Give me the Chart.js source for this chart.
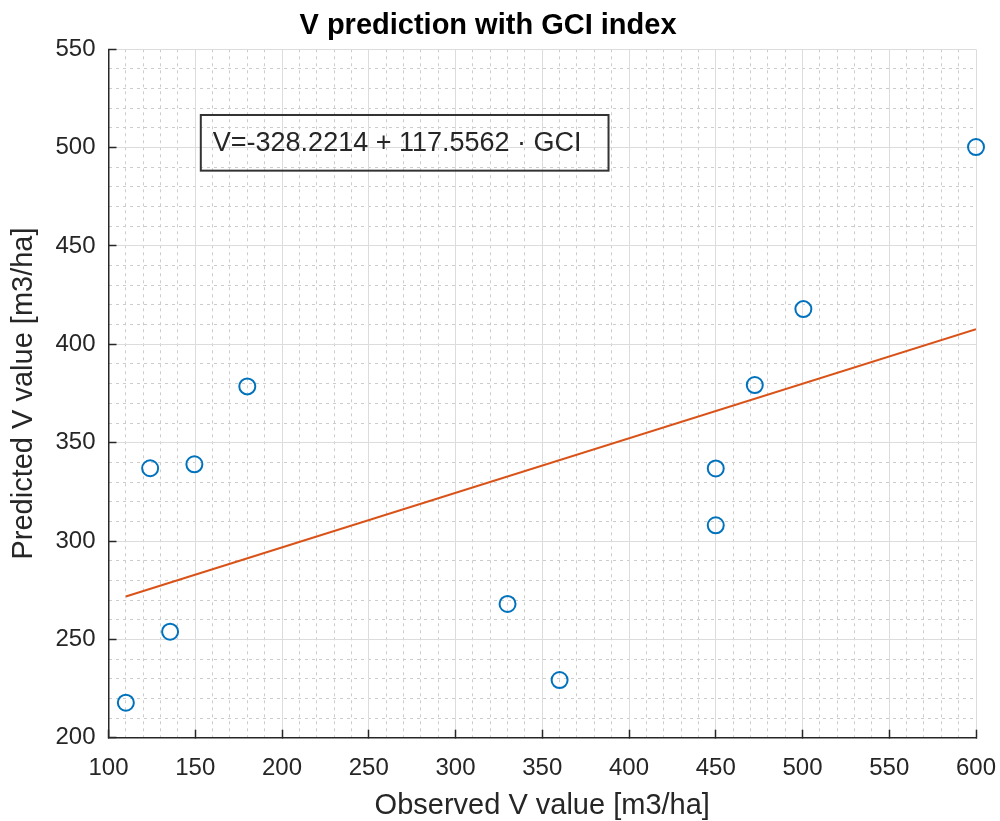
<!DOCTYPE html>
<html>
<head>
<meta charset="utf-8">
<title>V prediction with GCI index</title>
<script src="https://cdn.jsdelivr.net/npm/chart.js@4"></script>
<style>
  html, body { margin: 0; padding: 0; background: #ffffff; }
  canvas { display: block; }
</style>
</head>
<body>
<canvas id="chart" width="1000" height="821"></canvas>
<script>
// Observed vs predicted stand volume (m3/ha)
const observedV  = [110, 124, 135.5, 149.5, 180, 330, 360, 450, 450, 472.5, 500.5, 600];
const predictedV = [217.8, 337, 253.9, 339, 378.6, 268, 229.3, 336.9, 308, 379.3, 417.9, 500.3];

// Least-squares fit line end points
const fitX = [110, 600];
const fitY = [271.8, 407.7];

// Axis ranges and tick steps
const xRange = [100, 600];
const yRange = [200, 550];
const majorStep = 50;
const minorStep = 10;

const equationText = 'V=-328.2214 + 117.5562 \u00B7 GCI';

const FONT = '"Liberation Sans", Arial, Helvetica, sans-serif';
const AXIS_COLOR = '#262626';

const scatterPoints = observedV.map((x, i) => ({ x: x, y: predictedV[i] }));
const fitPoints = fitX.map((x, i) => ({ x: x, y: fitY[i] }));

// Text box holding the regression equation, anchored in data units
const equationBox = {
  id: 'equationBox',
  afterDraw(chart) {
    const { ctx, scales } = chart;
    const left = scales.x.getPixelForValue(153.2);
    const right = scales.x.getPixelForValue(388.2);
    const top = scales.y.getPixelForValue(516.6);
    const bottom = scales.y.getPixelForValue(488.3);
    ctx.save();
    ctx.strokeStyle = '#333333';
    ctx.lineWidth = 2;
    ctx.strokeRect(left, top, right - left, bottom - top);
    ctx.fillStyle = AXIS_COLOR;
    ctx.font = '27px ' + FONT;
    ctx.textAlign = 'left';
    ctx.textBaseline = 'middle';
    ctx.fillText(equationText, left + 12, (top + bottom) / 2 + 1);
    ctx.restore();
  }
};

const minorGrid = () => ({
  drawTicks: false,
  lineWidth: 1,
  color: (c) => (c.tick && c.tick.value % majorStep === 0) ? 'rgba(0,0,0,0)' : '#cccccc'
});

new Chart(document.getElementById('chart'), {
  type: 'scatter',
  data: {
    datasets: [
      {
        label: 'Fit',
        data: fitPoints,
        showLine: true,
        borderColor: '#D95319',
        borderWidth: 2,
        pointRadius: 0,
        pointHoverRadius: 0,
        fill: false,
        order: 2
      },
      {
        label: 'Observations',
        data: scatterPoints,
        showLine: false,
        clip: false,
        pointStyle: 'circle',
        pointRadius: 8,
        pointHoverRadius: 8,
        pointBorderWidth: 2,
        borderColor: '#0072BD',
        backgroundColor: 'rgba(0,0,0,0)',
        order: 1
      }
    ]
  },
  options: {
    responsive: false,
    animation: false,
    devicePixelRatio: 1,
    layout: { padding: { left: 0, right: 24, top: 0, bottom: 0 } },
    plugins: {
      legend: { display: false },
      tooltip: { enabled: false },
      title: {
        display: true,
        text: 'V prediction with GCI index',
        color: '#000000',
        font: { family: FONT, size: 29, weight: 'bold', lineHeight: 1 },
        padding: { top: 11, bottom: 9.3 }
      }
    },
    scales: {
      xMinor: {
        axis: 'x',
        type: 'linear',
        position: 'bottom',
        min: xRange[0],
        max: xRange[1],
        ticks: { display: false, stepSize: minorStep },
        grid: minorGrid(),
        border: { display: false, dash: [3, 4] }
      },
      yMinor: {
        axis: 'y',
        type: 'linear',
        position: 'left',
        min: yRange[0],
        max: yRange[1],
        ticks: { display: false, stepSize: minorStep },
        grid: minorGrid(),
        border: { display: false, dash: [3, 4] }
      },
      x: {
        type: 'linear',
        position: 'bottom',
        min: xRange[0],
        max: xRange[1],
        afterFit(scale) {
          scale.height = 83.3;
          scale.paddingLeft = 0;
          scale.paddingRight = 0;
        },
        ticks: {
          stepSize: majorStep,
          autoSkip: false,
          maxRotation: 0,
          color: AXIS_COLOR,
          padding: 24,
          font: { family: FONT, size: 24 }
        },
        grid: {
          color: '#dcdcdc',
          lineWidth: 1,
          tickColor: AXIS_COLOR,
          tickWidth: 1.5,
          tickLength: -8
        },
        border: { display: true, color: AXIS_COLOR, width: 1.5 },
        title: {
          display: true,
          text: 'Observed V value [m3/ha]',
          color: AXIS_COLOR,
          font: { family: FONT, size: 29, lineHeight: 1 },
          padding: { top: 0, bottom: 1 }
        }
      },
      y: {
        type: 'linear',
        position: 'left',
        min: yRange[0],
        max: yRange[1],
        afterFit(scale) {
          scale.width = 108.5;
          scale.paddingTop = 0;
          scale.paddingBottom = 0;
        },
        ticks: {
          stepSize: majorStep,
          autoSkip: false,
          color: AXIS_COLOR,
          padding: 21,
          font: { family: FONT, size: 24 }
        },
        grid: {
          color: '#dcdcdc',
          lineWidth: 1,
          tickColor: AXIS_COLOR,
          tickWidth: 1.5,
          tickLength: -8
        },
        border: { display: true, color: AXIS_COLOR, width: 1.5 },
        title: {
          display: true,
          text: 'Predicted V value [m3/ha]',
          color: AXIS_COLOR,
          font: { family: FONT, size: 29, lineHeight: 1 },
          padding: { top: 9.5, bottom: 0 }
        }
      }
    }
  },
  plugins: [equationBox]
});
</script>
</body>
</html>
